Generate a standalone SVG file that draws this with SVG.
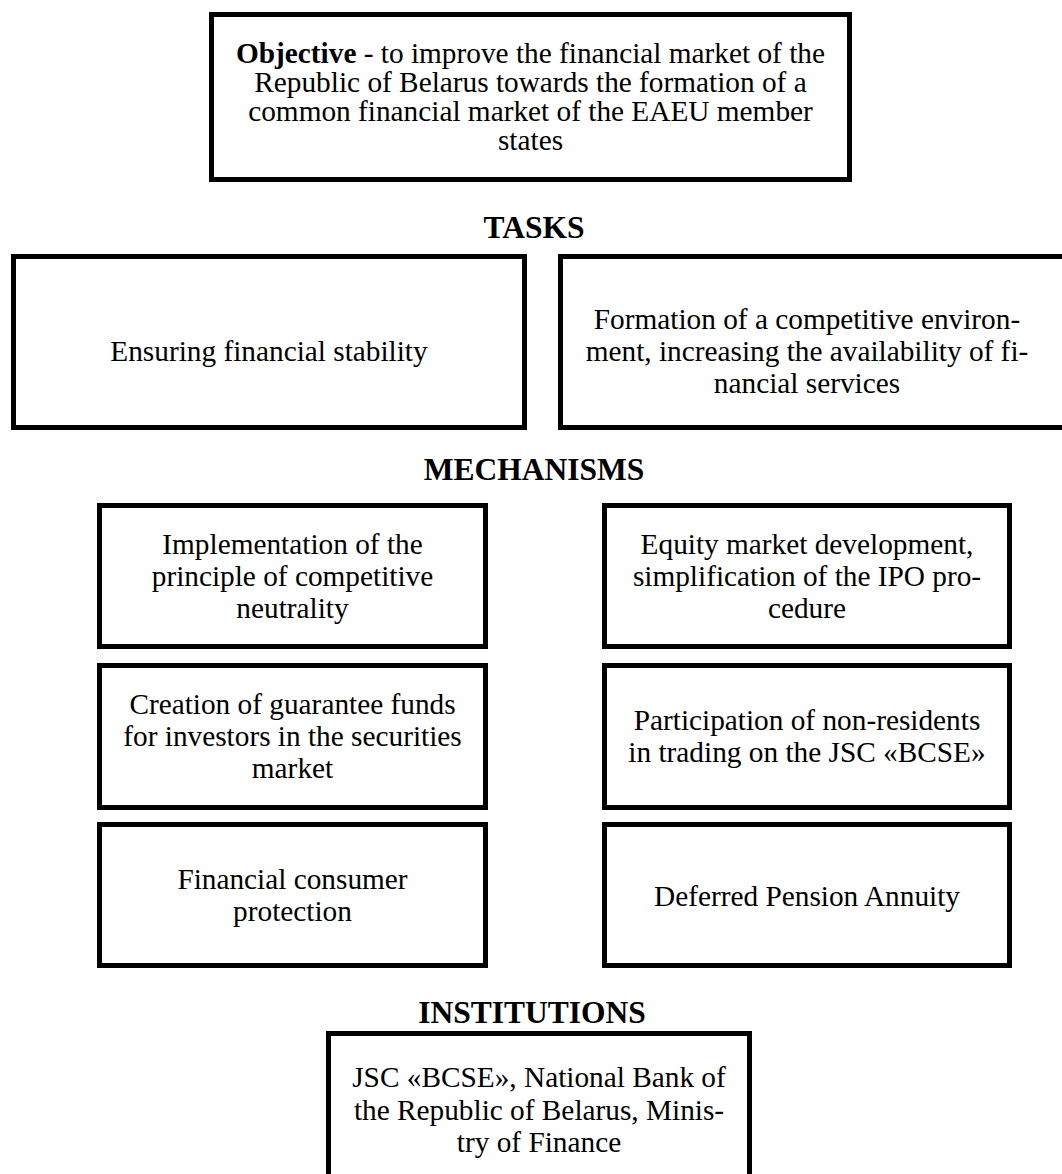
<svg xmlns="http://www.w3.org/2000/svg" width="1062" height="1174" viewBox="0 0 1062 1174">
<style>
.box{fill:#fff;stroke:#000;stroke-width:5}
.t{font-family:"Liberation Serif","Times New Roman",serif;font-size:29.3px;fill:#000;text-anchor:middle}
.h{font-family:"Liberation Serif","Times New Roman",serif;font-size:31.5px;font-weight:bold;fill:#000;text-anchor:middle}
</style>
<rect width="1062" height="1174" fill="#fff"/>
<g id="connectors"/>
<g id="objective">
<rect class="box" x="211.5" y="14.5" width="638" height="165"/>
<text class="t" x="530.5" y="62.5"><tspan font-weight="bold">Objective</tspan> - to improve the financial market of the</text>
<text class="t" x="530.5" y="91.5">Republic of Belarus towards the formation of a</text>
<text class="t" x="530.5" y="120.5">common financial market of the EAEU member</text>
<text class="t" x="530.5" y="149.5">states</text>
</g>
<g id="heading-tasks"><text class="h" x="534" y="238">TASKS</text></g>
<g id="task-1">
<rect class="box" x="13.5" y="256.5" width="511" height="171"/>
<text class="t" x="269" y="361">Ensuring financial stability</text>
</g>
<g id="task-2">
<rect class="box" x="560.5" y="256.5" width="510" height="171"/>
<text class="t" x="807" y="329">Formation of a competitive environ-</text>
<text class="t" x="807" y="361">ment, increasing the availability of fi-</text>
<text class="t" x="807" y="393">nancial services</text>
</g>
<g id="heading-mechanisms"><text class="h" x="534" y="480">MECHANISMS</text></g>
<g id="mech-1">
<rect class="box" x="99.5" y="505.5" width="386" height="141"/>
<text class="t" x="292.5" y="553.7">Implementation of the</text>
<text class="t" x="292.5" y="585.7">principle of competitive</text>
<text class="t" x="292.5" y="617.7">neutrality</text>
</g>
<g id="mech-2">
<rect class="box" x="604.5" y="505.5" width="405" height="141"/>
<text class="t" x="807" y="553.7">Equity market development,</text>
<text class="t" x="807" y="585.7">simplification of the IPO pro-</text>
<text class="t" x="807" y="617.7">cedure</text>
</g>
<g id="mech-3">
<rect class="box" x="99.5" y="665.5" width="386" height="142"/>
<text class="t" x="292.5" y="714.2">Creation of guarantee funds</text>
<text class="t" x="292.5" y="746.2">for investors in the securities</text>
<text class="t" x="292.5" y="778.2">market</text>
</g>
<g id="mech-4">
<rect class="box" x="604.5" y="665.5" width="405" height="142"/>
<text class="t" x="807" y="730.2">Participation of non-residents</text>
<text class="t" x="807" y="762.2">in trading on the JSC «BCSE»</text>
</g>
<g id="mech-5">
<rect class="box" x="99.5" y="824.5" width="386" height="141"/>
<text class="t" x="292.5" y="888.7">Financial consumer</text>
<text class="t" x="292.5" y="920.7">protection</text>
</g>
<g id="mech-6">
<rect class="box" x="604.5" y="824.5" width="405" height="141"/>
<text class="t" x="807" y="905.5">Deferred Pension Annuity</text>
</g>
<g id="heading-institutions"><text class="h" x="532" y="1023">INSTITUTIONS</text></g>
<g id="institutions">
<rect class="box" x="328.5" y="1033.5" width="421" height="160"/>
<text class="t" x="539" y="1087">JSC «BCSE», National Bank of</text>
<text class="t" x="539" y="1119.5">the Republic of Belarus, Minis-</text>
<text class="t" x="539" y="1152">try of Finance</text>
</g>
</svg>
